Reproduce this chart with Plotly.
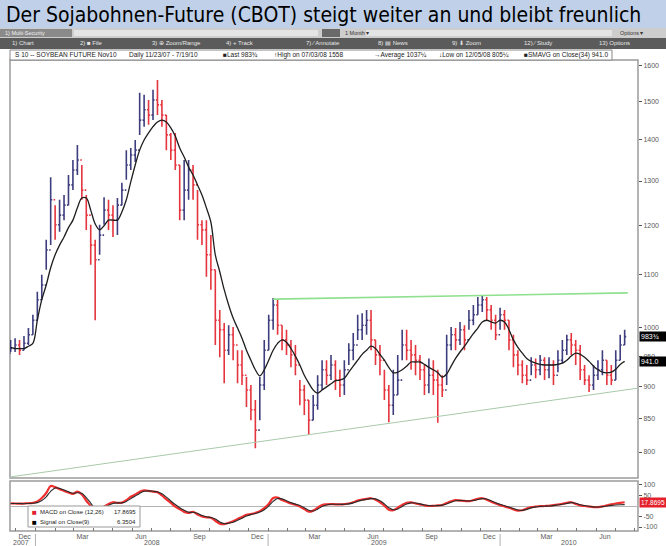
import math
import pandas as pd
import plotly.graph_objects as go

# ---------------- data ----------------
WEEKS = pd.date_range("2007-11-23", periods=139, freq="7D")
FIRST_OPEN = 955
CLOSE = [963, 969, 960, 972, 987, 1013, 1051, 1079, 1149, 1257,
         1202, 1223, 1245, 1291, 1326, 1350, 1279, 1223, 1159, 1129,
         1180, 1234, 1223, 1212, 1245, 1279, 1338, 1362, 1374, 1450,
         1477, 1463, 1503, 1490, 1463, 1412, 1374, 1338, 1234, 1279,
         1326, 1291, 1202, 1191, 1139, 1109, 1013, 996, 960, 987,
         969, 935, 918, 894, 863, 832, 902, 960, 1013, 1041,
         1004, 978, 969, 952, 935, 894, 878, 847, 870, 902,
         927, 918, 935, 910, 902, 927, 960, 969, 996, 1004,
         1013, 978, 952, 943, 894, 870, 886, 910, 969, 960,
         952, 943, 927, 902, 918, 910, 902, 894, 969, 987,
         978, 996, 978, 1013, 1023, 1041, 1051, 1032, 1013, 987,
         1023, 1013, 978, 952, 935, 918, 910, 935, 927, 943,
         927, 935, 918, 943, 960, 978, 969, 960, 927, 910,
         902, 918, 927, 943, 918, 910, 943, 969, 983.75]
HIGH = [978, 981, 978, 985, 999, 1023, 1066, 1099, 1170, 1309,
        1245, 1257, 1268, 1314, 1350, 1387, 1338, 1268, 1202, 1170,
        1202, 1263, 1257, 1245, 1261, 1296, 1374, 1379, 1399, 1523,
        1517, 1503, 1531, 1558, 1503, 1463, 1417, 1417, 1338, 1350,
        1350, 1338, 1279, 1212, 1212, 1180, 1109, 1032, 1008, 1004,
        1001, 960, 960, 915, 902, 878, 915, 978, 1023, 1054,
        1051, 1004, 996, 978, 969, 910, 902, 878, 886, 918,
        943, 943, 952, 943, 927, 943, 972, 990, 1023, 1026,
        1032, 1032, 978, 969, 927, 902, 927, 952, 996, 996,
        978, 969, 952, 935, 946, 943, 927, 918, 987, 1001,
        999, 1010, 1004, 1032, 1041, 1056, 1060, 1056, 1041, 1023,
        1036, 1032, 1013, 987, 960, 943, 935, 948, 946, 952,
        948, 948, 943, 960, 978, 987, 990, 978, 969, 935,
        918, 935, 943, 960, 943, 935, 960, 987, 996]
LOW = [957, 957, 952, 960, 969, 987, 1013, 1051, 1109, 1159,
       1170, 1187, 1212, 1245, 1279, 1314, 1257, 1191, 1119, 1013,
       1139, 1202, 1191, 1176, 1180, 1245, 1303, 1326, 1345, 1412,
       1433, 1438, 1450, 1463, 1433, 1374, 1350, 1326, 1212, 1212,
       1257, 1257, 1170, 1159, 1095, 1070, 969, 948, 905, 952,
       943, 905, 902, 867, 847, 805.25, 847, 894, 960, 996,
       987, 960, 952, 931, 918, 870, 855, 825, 847, 863,
       894, 902, 910, 894, 883, 886, 935, 943, 978, 978,
       987, 960, 935, 918, 878, 844, 855, 886, 943, 943,
       927, 918, 910, 886, 889, 886, 843, 883, 902, 960,
       960, 969, 960, 996, 1004, 1023, 1028, 1013, 996, 978,
       996, 996, 960, 931, 918, 905, 902, 918, 913, 918,
       910, 913, 902, 923, 938, 952, 952, 935, 910, 902,
       891, 894, 910, 918, 902, 902, 910, 943, 969]
SMA34 = [965, 963, 963, 963, 967, 972, 1013, 1051, 1079, 1113,
         1139, 1159, 1176, 1196, 1212, 1239, 1261, 1261, 1234, 1204,
         1191, 1200, 1212, 1212, 1212, 1230, 1257, 1298, 1338, 1374,
         1399, 1417, 1433, 1445, 1450, 1445, 1430, 1409, 1379, 1357,
         1333, 1314, 1291, 1268, 1239, 1208, 1139, 1105, 1070, 1041,
         1017, 999, 981, 960, 943, 927, 917, 927, 943, 960,
         972, 978, 974, 963, 950, 935, 918, 905, 894, 889,
         894, 899, 904, 909, 910, 913, 923, 933, 943, 953,
         960, 967, 963, 953, 943, 931, 922, 923, 927, 933,
         940, 940, 940, 936, 931, 927, 922, 915, 920, 933,
         946, 957, 967, 978, 989, 999, 1010, 1013, 1010, 1008,
         1013, 1010, 996, 978, 965, 955, 946, 941, 938, 936,
         935, 935, 935, 936, 938, 943, 950, 955, 953, 948,
         941, 933, 927, 923, 922, 923, 928, 936, 941]
MACD = [12, 12, 11, 12, 13, 15, 22, 38, 62, 95,
        90, 80, 72, 64, 58, 68, 55, 25, 0, -30,
        -20, -3, 10, 18, 15, 16, 28, 44, 55, 68,
        74, 72, 68, 66, 50, 32, 15, -3, -15, -28,
        -33, -28, -40, -50, -54, -56, -70, -84, -86, -80,
        -73, -62, -52, -42, -38, -33, -25, -10, 10, 38,
        40, 28, 20, 12, 6, -3, -15, -27, -22, -8,
        5, 8, 9, 8, 8, 9, 12, 18, 26, 31,
        34, 37, 30, 18, 2, -18, -20, -8, 5, 15,
        17, 12, 8, 3, 0, 1, 3, 5, 14, 22,
        28, 26, 24, 23, 28, 34, 37, 30, 20, 12,
        4, -2, -8, -16, -22, -20, -12, -5, -3, -1,
        0, 1, 4, 7, 10, 15, 18, 10, 3, 0,
        -3, -5, -5, -2, 3, 8, 12, 15, 17.8695]
SIGNAL = [12, 12, 12, 11, 12, 13, 16, 26, 44, 70,
          86, 84, 76, 68, 61, 63, 61, 40, 14, -12,
          -22, -12, 3, 12, 15, 15, 22, 35, 48, 60,
          70, 72, 70, 67, 58, 42, 24, 7, -8, -20,
          -30, -30, -35, -45, -51, -55, -62, -76, -84, -82,
          -77, -68, -58, -48, -41, -36, -29, -18, 0, 22,
          36, 34, 25, 16, 9, 2, -8, -20, -24, -15,
          -2, 5, 8, 8, 8, 8, 10, 15, 22, 28,
          32, 35, 34, 25, 10, -8, -18, -14, -2, 9,
          15, 14, 10, 5, 2, 1, 2, 4, 10, 18,
          25, 27, 25, 24, 26, 31, 35, 33, 25, 16,
          8, 1, -5, -12, -19, -21, -16, -9, -4, -2,
          -1, 0, 2, 5, 8, 12, 16, 13, 6, 2,
          -1, -4, -5, -3, 0, 3, 5, 6, 6.3504]

RESIST_DATES = ["2009-01-09", "2010-07-21"]
RESIST_VALUES = [1052, 1064]
SUPPORT_DATES = ["2007-11-22", "2010-08-06"]
SUPPORT_VALUES = [765, 897]

PRICE_TICKS = [800, 850, 900, 950, 1000, 1100, 1200, 1300, 1400, 1500, 1600]
MACD_TICKS = [-100, -50, 50, 100]
MONTH_LABELS = ["Dec", "Mar", "Jun", "Sep", "Dec", "Mar", "Jun", "Sep", "Dec", "Mar", "Jun"]
MONTH_LABEL_DATES = ["2007-12-15", "2008-03-15", "2008-06-15", "2008-09-15", "2008-12-15",
                     "2009-03-15", "2009-06-15", "2009-09-15", "2009-12-15", "2010-03-15",
                     "2010-06-15"]
YEAR_LABELS = ["2007", "2008", "2009", "2010"]
YEAR_LABEL_DATES = ["2007-12-09", "2008-07-03", "2009-06-24", "2010-04-19"]
YEAR_STARTS = ["2008-01-01", "2009-01-01", "2010-01-01"]
MONTH_STARTS = pd.date_range("2007-12-01", "2010-08-01", freq="MS")

TITLE = "Der Sojabohnen-Future (CBOT) steigt weiter an und bleibt freunlich"

OPEN = [FIRST_OPEN] + CLOSE[:-1]

# ---------------- geometry helpers ----------------
W, H = 666, 546
def px(x):
    return x / W
def py(y):
    return 1 - y / H

XDOM = [px(10), px(638)]
MAIN_DOM = [py(478), py(50)]
MACD_DOM = [py(531), py(481)]
XRANGE = ["2007-11-22", "2010-08-06"]

NAVY = "#2a2a72"
RED = "#e3202b"
AXC = "#9a9a9a"
TXT = "#5a5a5a"
FAM = "Liberation Sans, Arial, sans-serif"
TICKFONT = dict(family=FAM, size=7, color=TXT)

fig = go.Figure()

fig.add_trace(go.Ohlc(
    x=WEEKS, open=OPEN, high=HIGH, low=LOW, close=CLOSE,
    increasing=dict(line=dict(color=NAVY, width=1.6)),
    decreasing=dict(line=dict(color=RED, width=1.6)),
    tickwidth=0.35, xaxis="x", yaxis="y", showlegend=False, hoverinfo="skip", opacity=0.9))

fig.add_trace(go.Scatter(x=WEEKS, y=SMA34, mode="lines", line=dict(color="#1e1e1e", width=1.3, shape="spline"),
                         xaxis="x", yaxis="y", showlegend=False, hoverinfo="skip"))

fig.add_trace(go.Scatter(x=RESIST_DATES, y=RESIST_VALUES, mode="lines", line=dict(color="#8fe08f", width=1.6),
                         xaxis="x", yaxis="y", showlegend=False, hoverinfo="skip"))
fig.add_trace(go.Scatter(x=SUPPORT_DATES, y=SUPPORT_VALUES, mode="lines", line=dict(color="#a9c9a9", width=1),
                         xaxis="x", yaxis="y", showlegend=False, hoverinfo="skip"))

fig.add_trace(go.Scatter(x=WEEKS, y=MACD, mode="lines", line=dict(color="#f03030", width=2.2, shape="spline"),
                         xaxis="x2", yaxis="y2", showlegend=False, hoverinfo="skip"))
fig.add_trace(go.Scatter(x=WEEKS, y=SIGNAL, mode="lines", line=dict(color="#2a2a2a", width=1.1, shape="spline"),
                         xaxis="x2", yaxis="y2", showlegend=False, hoverinfo="skip"))

shapes = []
annotations = []

# title band and toolbar
shapes.append(dict(type="rect", xref="paper", yref="paper", x0=0, x1=1, y0=py(28), y1=1,
                   fillcolor="#bfd0e8", line=dict(width=0), layer="below"))
shapes.append(dict(type="rect", xref="paper", yref="paper", x0=0, x1=1, y0=py(38), y1=py(28),
                   fillcolor="#cdcdcd", line=dict(width=0), layer="below"))
shapes.append(dict(type="rect", xref="paper", yref="paper", x0=0, x1=px(72), y0=py(37), y1=py(29),
                   fillcolor="#8a8a8a", line=dict(width=0), layer="below"))
shapes.append(dict(type="rect", xref="paper", yref="paper", x0=px(74), x1=px(318), y0=py(36), y1=py(30),
                   fillcolor="#e4e4e4", line=dict(width=0), layer="below"))
shapes.append(dict(type="rect", xref="paper", yref="paper", x0=px(322), x1=px(340), y0=py(37), y1=py(29),
                   fillcolor="#6a6a6a", line=dict(width=0), layer="below"))
shapes.append(dict(type="rect", xref="paper", yref="paper", x0=px(366), x1=px(612), y0=py(36), y1=py(30),
                   fillcolor="#e4e4e4", line=dict(width=0), layer="below"))
shapes.append(dict(type="rect", xref="paper", yref="paper", x0=0, x1=1, y0=py(49), y1=py(38),
                   fillcolor="#5b5b5b", line=dict(width=0), layer="below"))

annotations.append(dict(text=TITLE, xref="paper", yref="paper", x=px(4), y=py(15), xanchor="left",
                        yanchor="middle", showarrow=False,
                        font=dict(family="Liberation Sans Narrow, DejaVu Sans Condensed, Arial Narrow, sans-serif",
                                  size=21, color="#000000")))

small_bar = [("1) Multi-Security", 3, "#f0f0f0"), ("1 Month \u25be", 343, "#333333"),
             ("Options \u25be", 618, "#333333")]
for t, x, c in small_bar:
    annotations.append(dict(text=t, xref="paper", yref="paper", x=px(x), y=py(33), xanchor="left",
                            yanchor="middle", showarrow=False, font=dict(size=5.5, color=c, family=FAM)))
tool_items = [("1) Chart", 10), ("2) \u25a0 File", 78), ("3) \u2295 Zoom/Range", 150), ("4) + Track", 224),
              ("7) \u2215 Annotate", 304), ("8) \u25a4 News", 376), ("9) \u2b07 Zoom", 450),
              ("12) \u2215 Study", 522), ("13) Options", 597)]
for t, x in tool_items:
    annotations.append(dict(text=t, xref="paper", yref="paper", x=px(x), y=py(43.5), xanchor="left",
                            yanchor="middle", showarrow=False, font=dict(size=6, color="#e8e8e8", family=FAM)))

# legend row
shapes.append(dict(type="rect", xref="paper", yref="paper", x0=px(10), x1=px(612), y0=py(60), y1=py(50),
                   fillcolor="#ffffff", line=dict(color="#888888", width=1)))
leg_items = [("S 10 -- SOYBEAN FUTURE Nov10", 13), ("Daily 11/23/07 - 7/19/10", 127),
             ("\u25a0Last 983\u00be", 221), ("\u2191High on 07/03/08 1558", 272),
             ("\u2192Average 1037\u00bc", 372), ("\u2193Low on 12/05/08 805\u00bc", 437),
             ("\u25a0SMAVG on Close(34) %.1f" % SMA34[-1], 522)]
for t, x in leg_items:
    annotations.append(dict(text=t, xref="paper", yref="paper", x=px(x), y=py(55), xanchor="left",
                            yanchor="middle", showarrow=False, font=dict(size=6.5, color="#222222", family=FAM)))

# panel frames
shapes.append(dict(type="rect", xref="paper", yref="paper", x0=XDOM[0], x1=XDOM[1], y0=MAIN_DOM[0],
                   y1=py(60), line=dict(color=AXC, width=1.5), layer="below"))
shapes.append(dict(type="rect", xref="paper", yref="paper", x0=XDOM[0], x1=XDOM[1], y0=MACD_DOM[0],
                   y1=MACD_DOM[1], line=dict(color=AXC, width=1.5), layer="below"))

# year separators and labels
for d in YEAR_STARTS:
    shapes.append(dict(type="line", xref="x2", yref="paper", x0=d, x1=d, y0=py(546), y1=py(534),
                       line=dict(color="#b0b0b0", width=1)))
for t, d in zip(YEAR_LABELS, YEAR_LABEL_DATES):
    annotations.append(dict(text=t, xref="x2", yref="paper", x=d, y=py(542), xanchor="center",
                            yanchor="middle", showarrow=False, font=TICKFONT))

# right-hand value boxes
box_font = dict(size=7, color="#ffffff", family=FAM)
annotations.append(dict(text="983\u00be", xref="paper", yref="y", x=px(639), y=math.log10(CLOSE[-1]),
                        xanchor="left", yanchor="middle", showarrow=False, bgcolor="#000000",
                        width=25, align="left", borderpad=1, font=box_font))
annotations.append(dict(text="%.1f" % SMA34[-1], xref="paper", yref="y", x=px(639), y=math.log10(SMA34[-1]),
                        xanchor="left", yanchor="middle", showarrow=False, bgcolor="#000000",
                        width=25, align="left", borderpad=1, font=box_font))
annotations.append(dict(text="%.4f" % MACD[-1], xref="paper", yref="y2", x=px(639), y=MACD[-1],
                        xanchor="left", yanchor="middle", showarrow=False, bgcolor=RED,
                        width=25, align="left", borderpad=1, font=dict(size=6.5, color="#ffffff", family=FAM)))

# MACD legend box
shapes.append(dict(type="rect", xref="paper", yref="paper", x0=px(28), x1=px(140), y0=py(527), y1=py(506),
                   fillcolor="#ffffff", line=dict(color="#999999", width=1), layer="above"))
macd_leg = [("\u25a0", RED, "MACD on Close (12,26)", "%.4f" % MACD[-1], 511.5),
            ("\u25a0", "#000000", "Signal on Close(9)", "%.4f" % SIGNAL[-1], 521.5)]
for sq, col, lab, val, yy in macd_leg:
    annotations.append(dict(text=sq, xref="paper", yref="paper", x=px(30), y=py(yy), xanchor="left",
                            yanchor="middle", showarrow=False, font=dict(size=8, color=col)))
    annotations.append(dict(text=lab, xref="paper", yref="paper", x=px(38), y=py(yy), xanchor="left",
                            yanchor="middle", showarrow=False, font=dict(size=6, color="#222222", family=FAM)))
    annotations.append(dict(text=val, xref="paper", yref="paper", x=px(138), y=py(yy), xanchor="right",
                            yanchor="middle", showarrow=False, font=dict(size=6, color="#222222", family=FAM)))

fig.update_layout(
    width=W, height=H, margin=dict(l=0, r=0, t=0, b=0),
    paper_bgcolor="#ffffff", plot_bgcolor="#ffffff", showlegend=False,
    xaxis=dict(domain=XDOM, range=XRANGE, anchor="y", showticklabels=False, showgrid=False,
               zeroline=False, ticks="", rangeslider=dict(visible=False), showline=False),
    yaxis=dict(domain=MAIN_DOM, type="log", range=[math.log10(763.6), math.log10(1644)], side="right",
               anchor="x", tickvals=PRICE_TICKS, ticktext=[str(v) for v in PRICE_TICKS],
               ticks="outside", ticklen=3, tickcolor="#555555", tickfont=TICKFONT,
               showgrid=False, zeroline=False, showline=False),
    xaxis2=dict(domain=XDOM, range=XRANGE, anchor="y2", matches="x", showgrid=False, zeroline=False,
                tickmode="array", tickvals=MONTH_LABEL_DATES, ticktext=MONTH_LABELS, ticks="",
                tickfont=TICKFONT, showline=False,
                minor=dict(tickmode="array", tickvals=list(MONTH_STARTS), ticks="inside", ticklen=3,
                           tickcolor="#777777", showgrid=False)),
    yaxis2=dict(domain=MACD_DOM, range=[-119, 119], side="right", anchor="x2", tickvals=MACD_TICKS,
                ticktext=[str(v) for v in MACD_TICKS], ticks="outside", ticklen=3, tickcolor="#555555",
                tickfont=TICKFONT, showgrid=False, zeroline=True, zerolinecolor="#b4b4b4",
                zerolinewidth=1, showline=False),
    shapes=shapes, annotations=annotations,
)

fig.write_html("out.html")
